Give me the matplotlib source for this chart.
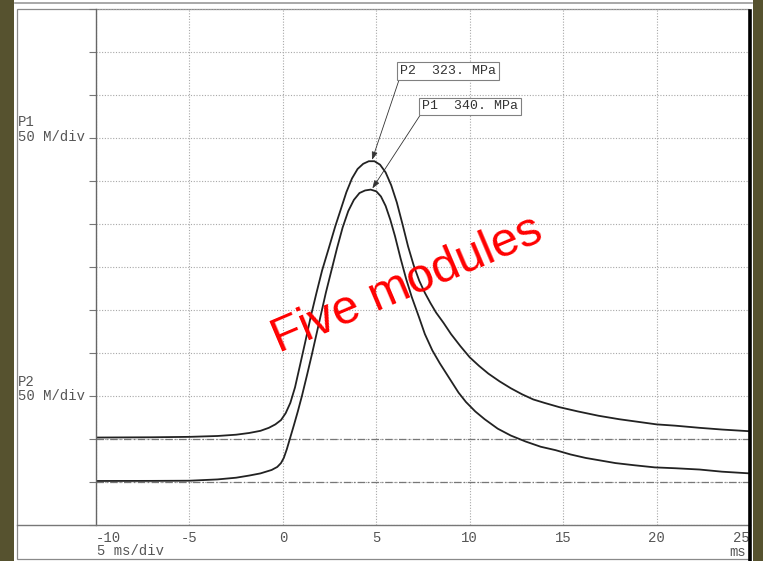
import matplotlib
matplotlib.use("Agg")
import matplotlib.pyplot as plt
from matplotlib.patches import Rectangle
from matplotlib.lines import Line2D

# time axis (ms) and pressure (MPa)
p2_t = [-10, -7, -5, -3.5, -2.5, -1.8, -1.2, -0.75, -0.4, -0.1, 0.15, 0.4, 0.65, 0.9,
        1.2, 1.5, 1.8, 2.1, 2.46, 2.8, 3.1, 3.4, 3.7, 4.0, 4.3, 4.6, 4.9, 5.2, 5.5,
        5.8, 6.1, 6.4, 6.7, 7.0, 7.3, 7.6, 7.9, 8.2, 8.6, 9.0, 9.5, 10.0, 10.5, 11.0,
        11.6, 12.2, 12.8, 13.4, 14.0, 14.8, 15.8, 16.9, 18.0, 19.0, 20.0, 21.0, 22.3,
        23.5, 25]
p2_v = [1.7, 2.0, 2.5, 3.5, 5, 7, 9.5, 13, 17, 22, 30, 42, 60, 84,
        113, 143, 170, 196, 222, 247, 267, 287, 303, 314, 320, 323, 323, 319, 310,
        295, 275, 250, 224, 202, 184, 170, 158, 147, 135, 122, 108, 95, 85, 76,
        67, 59, 52, 46, 42, 37, 32, 27, 23, 20, 17, 15.5, 13,
        11, 9]

p1_t = [-10, -7, -5, -3.5, -2.5, -1.8, -1.2, -0.6, -0.3, -0.1, 0.05, 0.21, 0.4, 0.59,
        0.8, 1.02, 1.3, 1.55, 1.8, 2.05, 2.3, 2.6, 2.9, 3.2, 3.5, 3.8, 4.1, 4.4, 4.7,
        5.0, 5.25, 5.5, 5.75, 6.0, 6.3, 6.6, 6.9, 7.28, 7.6, 8.0, 8.4, 8.9, 9.4, 9.8,
        10.3, 10.8, 11.5, 12.2, 13.0, 13.8, 14.6, 15.4, 16.2, 17.0, 17.8, 18.8, 19.9,
        21.0, 22.3, 23.5, 25]
p1_v = [1.2, 1.3, 1.5, 3, 5, 7.5, 10, 14, 17.5, 22, 28, 38, 52, 66,
        82, 100, 125, 148, 172, 196, 220, 246, 272, 296, 315, 328, 336, 339, 340,
        338, 332, 321, 305, 286, 260, 236, 215, 192, 172, 153, 138, 121, 104, 93,
        82, 73, 62, 54, 47, 41, 37, 32, 28, 25, 22, 19.5, 17,
        16, 14.5, 12, 10]

p1_peak = (4.75, 340)
p2_peak = (4.75, 323)
p2_offset = 50          # P2 trace sits one division above P1
x_ticks = [-10, -5, 0, 5, 10, 15, 20, 25]
x_labels = ['-10', '-5', '0', '5', '10', '15', '20', '25']

W, H = 763, 561
def fx(px):
    return px / W
def fy(py):
    return 1 - py / H

fig = plt.figure(figsize=(W / 100, H / 100), dpi=100)
fig.patch.set_facecolor('#56522f')

# paper and printed frame
fig.patches.append(Rectangle((fx(14), 0), fx(753) - fx(14), 1, transform=fig.transFigure,
                             facecolor='white', edgecolor='none', zorder=-5))
fig.lines.append(Line2D([fx(15), fx(752)], [fy(2.5), fy(2.5)], transform=fig.transFigure,
                        color='#9a9a9a', lw=1.2, zorder=-4))
fig.patches.append(Rectangle((fx(16.5), fy(559)), fx(749) - fx(16.5), fy(9) - fy(559),
                             transform=fig.transFigure, facecolor='none',
                             edgecolor='#8a8a8a', lw=0.9, zorder=-4))
fig.lines.append(Line2D([fx(750), fx(750)], [fy(11), fy(561)], transform=fig.transFigure,
                        color='black', lw=2.6, zorder=5))
fig.lines.append(Line2D([fx(17), fx(750)], [fy(525), fy(525)], transform=fig.transFigure,
                        color='#777777', lw=1.0, zorder=3))

ax = fig.add_axes([fx(96), fy(525), fx(750) - fx(96), fy(9) - fy(525)])
ax.set_facecolor('none')
ax.set_xlim(-10, 25)
ax.set_ylim(-50, 550)

ax.set_xticks(x_ticks)
ax.set_xticklabels(x_labels, family='Liberation Mono', fontsize=10, color='#555555')
labs = ax.get_xticklabels()
labs[0].set_ha('left')
labs[-1].set_ha('right')
ax.set_yticks(range(-50, 551, 50))
ax.set_yticklabels([])
ax.tick_params(axis='x', length=0, pad=4)
ax.tick_params(axis='y', length=5, color='#777777', width=0.8)
ax.grid(True, color='#a8a8a8', lw=0.8, linestyle=(0, (1, 1.5)))

for s in ['top', 'right', 'bottom']:
    ax.spines[s].set_visible(False)
ax.spines['left'].set_color('#666666')
ax.spines['left'].set_linewidth(1.0)

# zero lines of both channels
ax.axhline(0, color='#777777', lw=0.9, linestyle=(0, (6, 2, 1, 2)))
ax.axhline(p2_offset, color='#777777', lw=0.9, linestyle=(0, (6, 2, 1, 2)))

ax.plot(p1_t, p1_v, color='#222222', lw=1.3)
ax.plot(p2_t, [v + p2_offset for v in p2_v], color='#222222', lw=1.3)

box = dict(boxstyle='square,pad=0.2', facecolor='white', edgecolor='#808080', lw=0.8)
arrow = dict(arrowstyle='-|>,head_length=0.5,head_width=0.18', color='#333333', lw=0.6,
             relpos=(0, 0), shrinkA=0, shrinkB=1)
ax.annotate('P2  323. MPa', xy=(p2_peak[0], p2_peak[1] + p2_offset), xytext=(8.84, 478),
            ha='center', va='center', family='Liberation Mono', fontsize=9.5,
            color='#333333', bbox=box, arrowprops=arrow)
ax.annotate('P1  340. MPa', xy=p1_peak, xytext=(10.02, 437),
            ha='center', va='center', family='Liberation Mono', fontsize=9.5,
            color='#333333', bbox=box, arrowprops=arrow)

mono = dict(family='Liberation Mono', fontsize=10, color='#555555', va='center')
fig.text(fx(18), fy(122), 'P1', **mono)
fig.text(fx(18), fy(137), '50 M/div', **mono)
fig.text(fx(18), fy(382), 'P2', **mono)
fig.text(fx(18), fy(396), '50 M/div', **mono)
fig.text(fx(97), fy(551), '5 ms/div', **mono)
fig.text(fx(746), fy(552), 'ms', ha='right', **mono)

fig.text(fx(407), fy(285), 'Five modules', family='Liberation Sans', fontsize=35,
         color='#ff0000', rotation=23, ha='center', va='center', zorder=10)

fig.savefig('out.png', dpi=100, facecolor=fig.get_facecolor())
